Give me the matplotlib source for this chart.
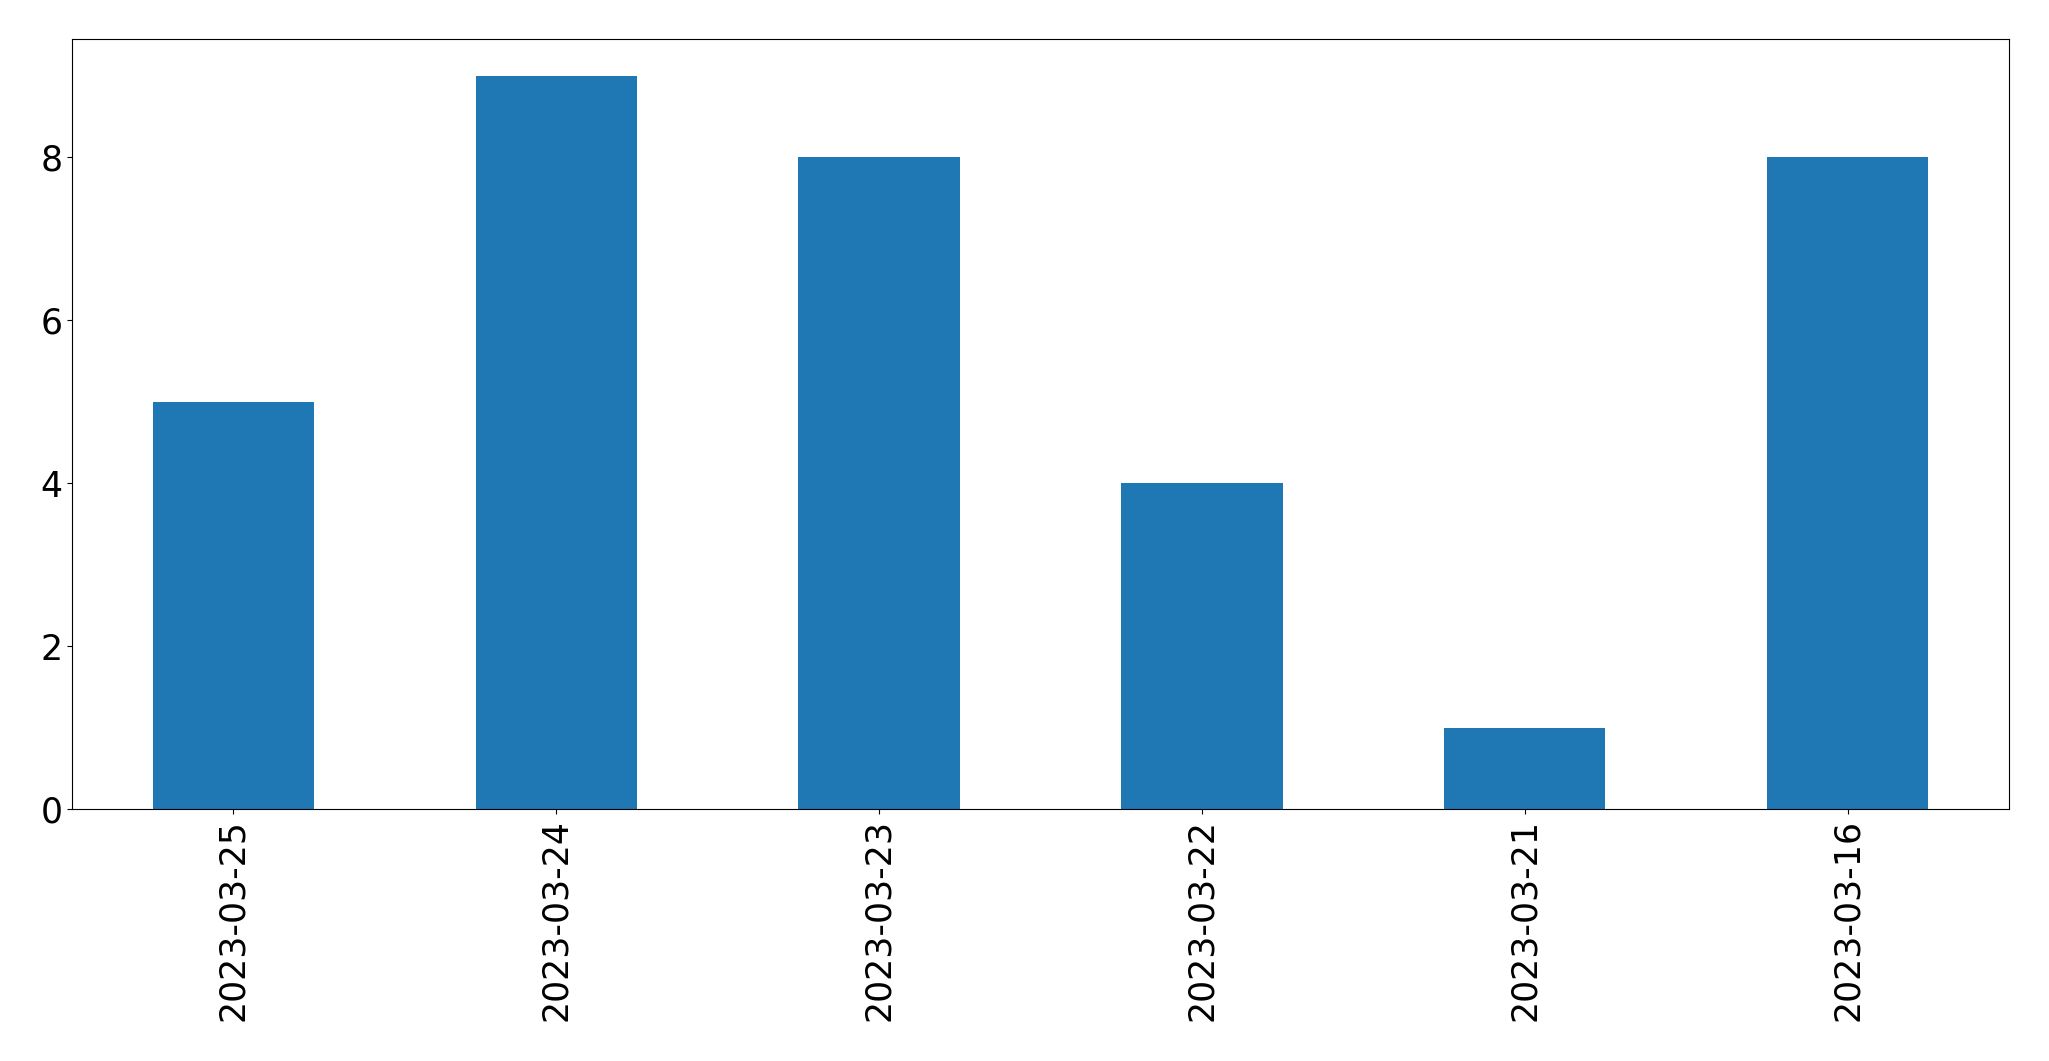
import matplotlib
matplotlib.use('Agg')
import matplotlib.pyplot as plt
import pandas as pd

dates = ['2023-03-25', '2023-03-24', '2023-03-23', '2023-03-22', '2023-03-21', '2023-03-16']
counts = [5, 9, 8, 4, 1, 8]

s = pd.Series(counts, index=dates)

fig = plt.figure(figsize=(20.49, 10.61), dpi=100)
ax = fig.add_axes([72 / 2049, 1 - 809 / 1061, (2009 - 72) / 2049, (809 - 39) / 1061])
s.plot(kind='bar', ax=ax, color='#1f77b4')
ax.tick_params(axis='both', labelsize=25)
fig.savefig('out.png', dpi=100)
